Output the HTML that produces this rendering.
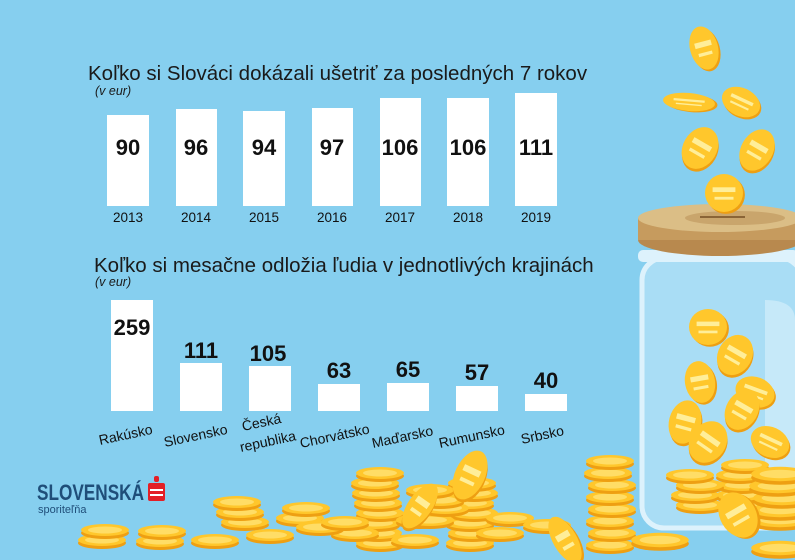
<!DOCTYPE html>
<html><head><meta charset="utf-8"><style>
body{margin:0;width:795px;height:560px;overflow:hidden;background:#86CFEF;font-family:"Liberation Sans",sans-serif}
svg{position:absolute;left:0;top:0}
.t{font-family:"Liberation Sans",sans-serif}
</style></head><body>
<svg width="795" height="560" viewBox="0 0 795 560">
<defs>
<g id="c"><ellipse cx="0" cy="3" rx="24" ry="6" fill="#EE9F12"/><ellipse cx="0" cy="0" rx="24" ry="6" fill="#FFC72C"/><ellipse cx="0" cy="0" rx="17" ry="3.5" fill="#FFDD66"/></g>
<g id="f"><ellipse cx="2" cy="2" rx="20" ry="20" fill="#EE9F12"/><ellipse cx="0" cy="0" rx="20" ry="20" fill="#FFC72C"/><rect x="-12" y="-6" width="24" height="5" fill="#FFEE99"/><rect x="-10" y="4" width="20" height="3" fill="#FFEE99"/></g>
</defs>
<rect width="795" height="560" fill="#86CFEF"/>
<!-- jar -->
<rect x="642" y="258" width="160" height="270" rx="22" fill="#A9DDF5" stroke="#DDF2FC" stroke-width="5"/>
<rect x="820" y="300" width="10" height="200" fill="#CFEFFB"/>
<path d="M765 300 Q795 300 795 320 L795 500 L765 500 Z" fill="#C6E9F9"/>
<rect x="638" y="250" width="160" height="12" rx="5" fill="#DDF2FC"/>
<ellipse cx="720" cy="240" rx="82" ry="16" fill="#B8894E"/>
<rect x="638" y="218" width="164" height="22" fill="#C69B5E"/>
<ellipse cx="720" cy="218" rx="82" ry="14" fill="#DBBE86"/>
<ellipse cx="735" cy="218" rx="50" ry="7" fill="#C9A56C"/>
<rect x="700" y="216" width="45" height="2" fill="#8A6436"/>
<!-- falling coins -->
<use href="#f" transform="translate(704,48) rotate(-15) scale(0.7,1.1)"/>
<use href="#f" transform="translate(689,102) rotate(5) scale(1.3,0.45)"/>
<use href="#f" transform="translate(741,102) rotate(25) scale(1,0.7)"/>
<use href="#f" transform="translate(700,148) rotate(30) scale(0.85,1.1)"/>
<use href="#f" transform="translate(757,150) rotate(30) scale(0.8,1.1)"/>
<use href="#f" transform="translate(724,193) scale(0.95)"/>
<!-- coins in jar -->
<use href="#f" transform="translate(708,327) scale(0.95,0.9)"/>
<use href="#f" transform="translate(735,355) rotate(30) scale(0.85,1.05)"/>
<use href="#f" transform="translate(700,382) rotate(-10) scale(0.75,1.05)"/>
<use href="#f" transform="translate(755,392) rotate(20) scale(1,0.75)"/>
<use href="#f" transform="translate(742,410) rotate(30) scale(0.8,1.05)"/>
<use href="#f" transform="translate(685,422) rotate(15) scale(0.8,1.1)"/>
<use href="#f" transform="translate(708,442) rotate(35) scale(0.9,1.1)"/>
<use href="#f" transform="translate(770,442) rotate(25) scale(1,0.75)"/>
<g>
<use href="#c" transform="translate(740,505)"/><use href="#c" transform="translate(740,495)"/><use href="#c" transform="translate(742,485)"/><use href="#c" transform="translate(740,475)"/><use href="#c" transform="translate(745,465)"/>
<use href="#c" transform="translate(700,505)"/><use href="#c" transform="translate(695,495)"/><use href="#c" transform="translate(700,485)"/><use href="#c" transform="translate(690,475)"/>
<use href="#c" transform="translate(780,520) scale(1.2)"/><use href="#c" transform="translate(780,510) scale(1.2)"/><use href="#c" transform="translate(782,498) scale(1.2)"/><use href="#c" transform="translate(778,486) scale(1.2)"/><use href="#c" transform="translate(780,474) scale(1.2)"/>
</g>
<!-- right stack outside -->
<g>
<use href="#c" transform="translate(610,545)"/><use href="#c" transform="translate(612,533)"/><use href="#c" transform="translate(610,521)"/><use href="#c" transform="translate(612,509)"/><use href="#c" transform="translate(610,497)"/><use href="#c" transform="translate(612,485)"/><use href="#c" transform="translate(608,473)"/><use href="#c" transform="translate(610,461)"/>
<use href="#f" transform="translate(738,515) rotate(-30) scale(0.9,1.2)"/>
<use href="#c" transform="translate(660,540) scale(1.2)"/>
<use href="#c" transform="translate(780,548) scale(1.2)"/>
</g>
<!-- bottom stacks -->
<g>
<use href="#c" transform="translate(102,540)"/><use href="#c" transform="translate(105,530)"/>
<use href="#c" transform="translate(160,541)"/><use href="#c" transform="translate(162,531)"/>
<use href="#c" transform="translate(215,540)"/><use href="#c" transform="translate(245,522)"/><use href="#c" transform="translate(240,512)"/><use href="#c" transform="translate(237,502)"/>
<use href="#c" transform="translate(270,535)"/><use href="#c" transform="translate(300,518)"/><use href="#c" transform="translate(306,508)"/>
<use href="#c" transform="translate(380,543)"/><use href="#c" transform="translate(378,533)"/><use href="#c" transform="translate(376,523)"/><use href="#c" transform="translate(380,513)"/><use href="#c" transform="translate(378,503)"/><use href="#c" transform="translate(376,493)"/><use href="#c" transform="translate(375,483)"/><use href="#c" transform="translate(380,473)"/>
<use href="#c" transform="translate(355,533)"/><use href="#c" transform="translate(320,527)"/><use href="#c" transform="translate(345,522)"/>
<use href="#c" transform="translate(415,540)"/><use href="#c" transform="translate(420,520)"/>
<use href="#c" transform="translate(470,543)"/><use href="#c" transform="translate(472,533)"/><use href="#c" transform="translate(470,523)"/><use href="#c" transform="translate(474,513)"/><use href="#c" transform="translate(470,503)"/><use href="#c" transform="translate(474,493)"/><use href="#c" transform="translate(472,483)"/>
<use href="#c" transform="translate(430,520)"/><use href="#c" transform="translate(445,508)"/>
<use href="#c" transform="translate(510,518)"/><use href="#c" transform="translate(500,533)"/><use href="#c" transform="translate(440,500)"/><use href="#c" transform="translate(430,490)"/>
<use href="#c" transform="translate(547,525)"/>
<use href="#f" transform="translate(470,475) rotate(25) scale(0.75,1.3)"/>
<use href="#f" transform="translate(420,506) rotate(35) scale(0.6,1.3)"/>
<use href="#f" transform="translate(565,540) rotate(-30) scale(0.6,1.3)"/>
</g>
<!-- top chart -->
<text class="t" x="88" y="80" font-size="20.5" fill="#1a1a1a">Koľko si Slováci dokázali ušetriť za posledných 7 rokov</text>
<text class="t" x="95" y="95" font-size="12.5" font-style="italic" fill="#1a1a1a">(v eur)</text>
<g fill="#fff">
<rect x="107" y="115" width="42" height="91"/><rect x="176" y="109" width="41" height="97"/><rect x="243" y="111" width="42" height="95"/><rect x="312" y="108" width="41" height="98"/><rect x="380" y="98" width="41" height="108"/><rect x="447" y="98" width="42" height="108"/><rect x="515" y="93" width="42" height="113"/>
</g>
<g class="t" font-size="22" font-weight="bold" fill="#111" text-anchor="middle">
<text x="128" y="155">90</text><text x="196" y="155">96</text><text x="264" y="155">94</text><text x="332" y="155">97</text><text x="400" y="155">106</text><text x="468" y="155">106</text><text x="536" y="155">111</text>
</g>
<g class="t" font-size="13.5" fill="#111" text-anchor="middle">
<text x="128" y="222">2013</text><text x="196" y="222">2014</text><text x="264" y="222">2015</text><text x="332" y="222">2016</text><text x="400" y="222">2017</text><text x="468" y="222">2018</text><text x="536" y="222">2019</text>
</g>
<!-- bottom chart -->
<text class="t" x="94" y="272" font-size="20.5" fill="#1a1a1a">Koľko si mesačne odložia ľudia v jednotlivých krajinách</text>
<text class="t" x="95" y="286" font-size="12.5" font-style="italic" fill="#1a1a1a">(v eur)</text>
<g fill="#fff">
<rect x="111" y="300" width="42" height="111"/><rect x="180" y="363" width="42" height="48"/><rect x="249" y="366" width="42" height="45"/><rect x="318" y="384" width="42" height="27"/><rect x="387" y="383" width="42" height="28"/><rect x="456" y="386" width="42" height="25"/><rect x="525" y="394" width="42" height="17"/>
</g>
<g class="t" font-size="22" font-weight="bold" fill="#111" text-anchor="middle">
<text x="132" y="335">259</text><text x="201" y="358">111</text><text x="268" y="361">105</text><text x="339" y="378">63</text><text x="408" y="377">65</text><text x="477" y="380">57</text><text x="546" y="388">40</text>
</g>
<g class="t" font-size="14" fill="#111">
<text transform="translate(100,445) rotate(-12)">Rakúsko</text>
<text transform="translate(165,447) rotate(-12)">Slovensko</text>
<text transform="translate(243,431) rotate(-12)">Česká</text>
<text transform="translate(241,452) rotate(-12)">republika</text>
<text transform="translate(301,448) rotate(-12)">Chorvátsko</text>
<text transform="translate(373,448) rotate(-12)">Maďarsko</text>
<text transform="translate(440,448) rotate(-12)">Rumunsko</text>
<text transform="translate(522,444) rotate(-12)">Srbsko</text>
</g>
<!-- logo -->
<text class="t" x="37" y="500" font-size="22" font-weight="bold" fill="#1F4E79" textLength="107" lengthAdjust="spacingAndGlyphs">SLOVENSKÁ</text>
<rect x="148" y="483" width="17" height="18" rx="2" fill="#E31F26"/>
<rect x="154" y="476" width="5" height="6" rx="2" fill="#E31F26"/>
<rect x="150" y="489" width="13" height="2" fill="#fff"/><rect x="150" y="494" width="13" height="2" fill="#fff"/>
<text class="t" x="38" y="513" font-size="11" fill="#1F4E79">sporiteľňa</text>
</svg>
</body></html>
